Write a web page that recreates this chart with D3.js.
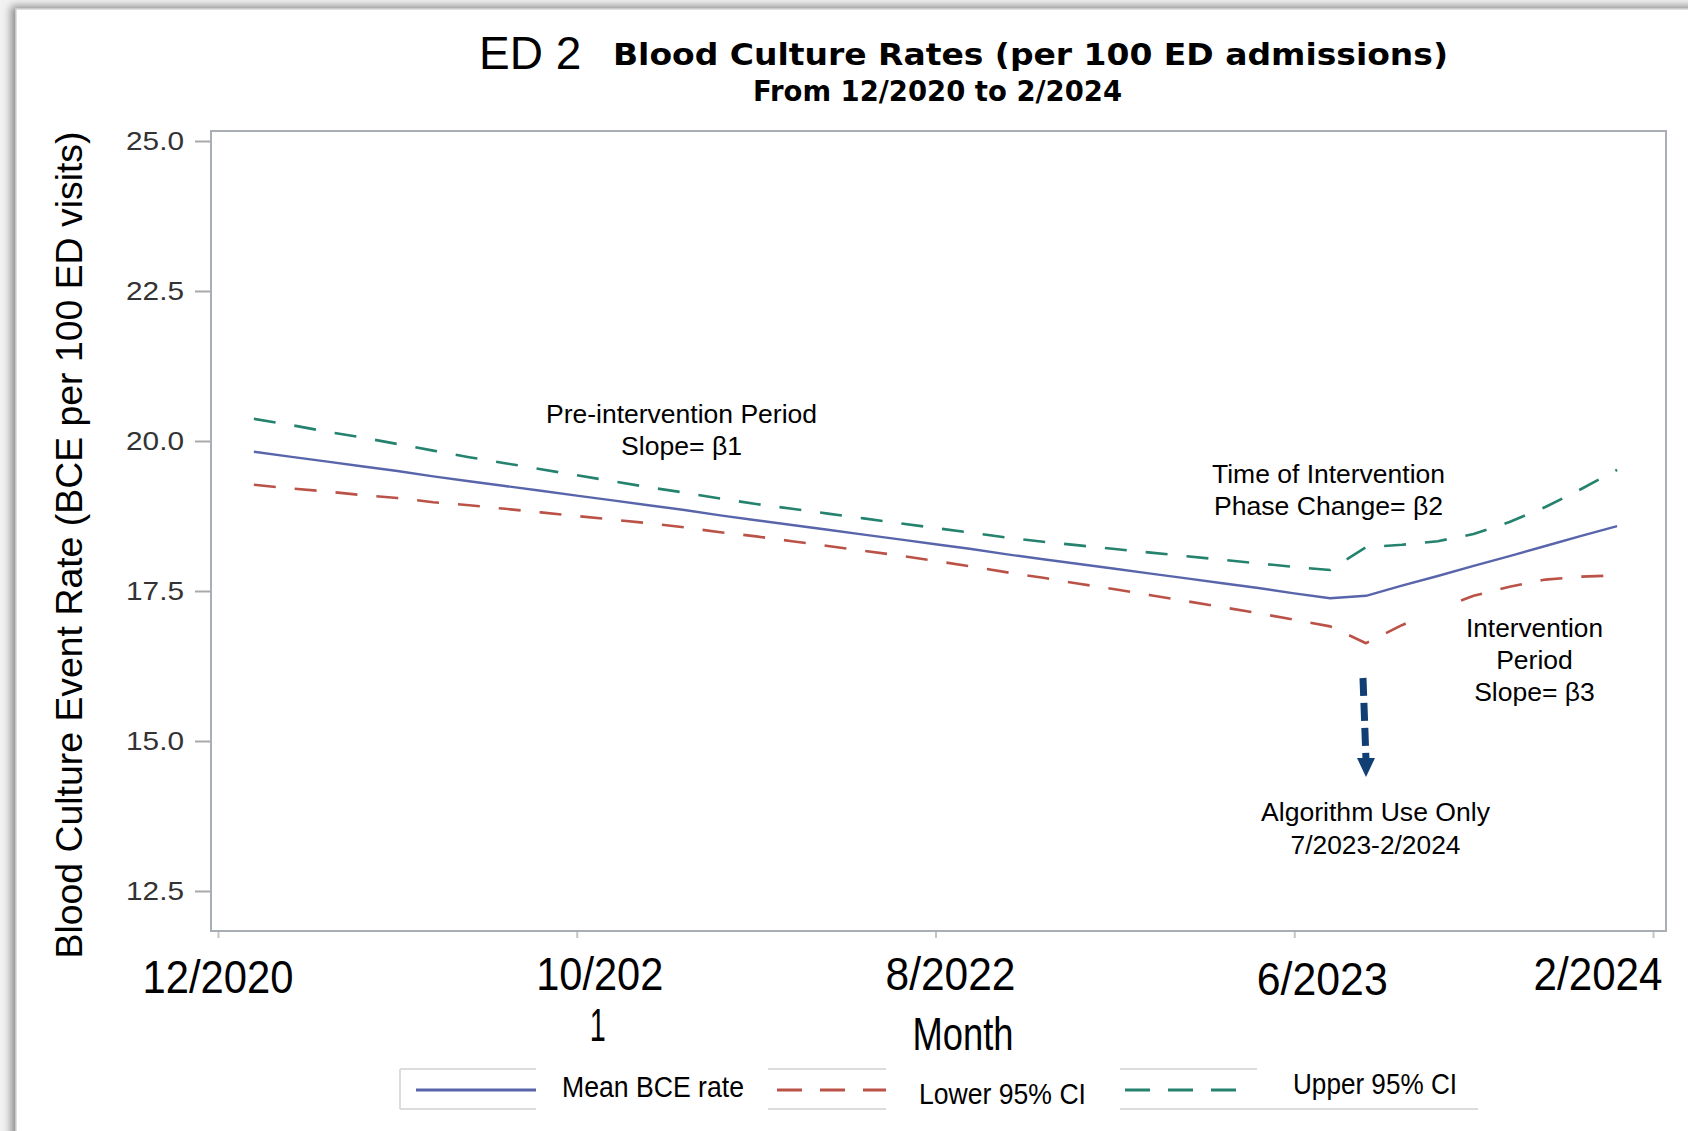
<!DOCTYPE html>
<html>
<head>
<meta charset="utf-8">
<script src="https://cdn.jsdelivr.net/npm/d3@7"></script>
<style>
  html, body { margin: 0; padding: 0; background: #fff; }
  svg { display: block; }
</style>
</head>
<body>
<svg id="chart" width="1688" height="1131"></svg>
<script>
// Study months, 12/2020 through 2/2024 (month number = position + 1)
const months = [
  "12/2020",
  "1/2021","2/2021","3/2021","4/2021","5/2021","6/2021","7/2021","8/2021","9/2021","10/2021","11/2021","12/2021",
  "1/2022","2/2022","3/2022","4/2022","5/2022","6/2022","7/2022","8/2022","9/2022","10/2022","11/2022","12/2022",
  "1/2023","2/2023","3/2023","4/2023","5/2023","6/2023","7/2023","8/2023","9/2023","10/2023","11/2023","12/2023",
  "1/2024","2/2024"
];

// Modelled blood culture event rate per 100 ED visits
const meanRate = [
  19.82, 19.74, 19.66, 19.58, 19.50, 19.41, 19.33, 19.25, 19.17, 19.09,
  19.01, 18.93, 18.85, 18.76, 18.68, 18.60, 18.52, 18.44, 18.36, 18.28,
  18.20, 18.11, 18.03, 17.95, 17.87, 17.79, 17.71, 17.63, 17.55, 17.46,
  17.38, 17.42, 17.59, 17.75, 17.92, 18.08, 18.25, 18.42, 18.58
];
const lower95 = [
  19.27, 19.21, 19.16, 19.10, 19.05, 18.98, 18.93, 18.87, 18.81, 18.75,
  18.69, 18.63, 18.56, 18.48, 18.41, 18.33, 18.25, 18.17, 18.09, 18.00,
  17.91, 17.81, 17.72, 17.62, 17.53, 17.43, 17.33, 17.23, 17.13, 17.02,
  16.91, 16.63, 16.93, 17.20, 17.42, 17.57, 17.69, 17.74, 17.76
];
const upper95 = [
  20.37, 20.27, 20.16, 20.06, 19.95, 19.84, 19.73, 19.63, 19.53, 19.43,
  19.33, 19.23, 19.14, 19.04, 18.95, 18.87, 18.79, 18.71, 18.63, 18.55,
  18.47, 18.39, 18.32, 18.26, 18.20, 18.14, 18.08, 18.02, 17.96, 17.90,
  17.85, 18.23, 18.27, 18.33, 18.45, 18.65, 18.90, 19.20, 19.52
];

const seriesNames = ["Mean BCE rate", "Lower 95% CI", "Upper 95% CI"];
const yTicks = [12.5, 15.0, 17.5, 20.0, 22.5, 25.0];
const xTickMonths = [0, 10, 20, 30, 40];
const xTickLabels = ["12/2020", "10/2021", "8/2022", "6/2023", "2/2024"];
const algorithmStartMonth = 32;   // 7/2023

const W = 1688, H = 1131;
const frame = { left: 211, right: 1666, top: 131, bottom: 931 };
const SANS = "'Liberation Sans', Arial, sans-serif";
const WIDE_BOLD = "'DejaVu Sans', Verdana, sans-serif";

const svg = d3.select("#chart");

// helper: pin a text run to a measured width
function fit(sel, w) {
  sel.attr("textLength", w).attr("lengthAdjust", "spacingAndGlyphs");
  return sel;
}

// ---- page with soft edge shadow on the top/left ----
const defs = svg.append("defs");
defs.append("filter").attr("id", "edgeShadow")
  .attr("x", "-5%").attr("y", "-5%").attr("width", "110%").attr("height", "110%")
  .append("feGaussianBlur").attr("stdDeviation", 4);

svg.append("rect").attr("x", 0).attr("y", 0).attr("width", W).attr("height", H).attr("fill", "#f2f2f2");
svg.append("rect").attr("x", 11).attr("y", 6).attr("width", W + 40).attr("height", H + 40)
  .attr("fill", "#8a8a8a").attr("filter", "url(#edgeShadow)");
svg.append("rect").attr("x", 16).attr("y", 9).attr("width", W).attr("height", H)
  .attr("fill", "#fff").attr("stroke", "#d6d6d6").attr("stroke-width", 1.5);

// ---- scales ----
const x = d3.scaleLinear().domain([0, 40]).range([218, 1653]);
const y = d3.scaleLinear().domain([12.5, 25]).range([891, 141]);

// ---- titles ----
svg.append("text").attr("x", 479).attr("y", 69)
  .attr("font-family", SANS).attr("font-size", 46).attr("fill", "#000")
  .text("ED 2");
fit(svg.append("text").attr("x", 613).attr("y", 65)
  .attr("font-family", WIDE_BOLD).attr("font-weight", "bold").attr("font-size", 30.5).attr("fill", "#000")
  .text("Blood Culture Rates (per 100 ED admissions)"), 835);
fit(svg.append("text").attr("x", 753).attr("y", 101)
  .attr("font-family", WIDE_BOLD).attr("font-weight", "bold").attr("font-size", 28).attr("fill", "#000")
  .text("From 12/2020 to 2/2024"), 369);

// ---- y axis ----
const yAxis = svg.append("g").attr("transform", `translate(${frame.left},0)`)
  .call(d3.axisLeft(y).tickValues(yTicks).tickSize(16).tickPadding(11).tickFormat(d3.format(".1f")));
yAxis.select(".domain").remove();
yAxis.selectAll(".tick line").attr("stroke", "#a9a9a9").attr("stroke-width", 2);
yAxis.selectAll(".tick text")
  .attr("font-family", SANS).attr("font-size", 25).attr("fill", "#333")
  .attr("dy", "0.35em")
  .each(function () { fit(d3.select(this), 58); });

fit(svg.append("text")
  .attr("transform", `translate(82,545) rotate(-90)`)
  .attr("text-anchor", "middle")
  .attr("font-family", SANS).attr("font-size", 37).attr("fill", "#000")
  .text("Blood Culture Event Rate (BCE per 100 ED visits)"), 827);

// ---- x axis ----
const xAxis = svg.append("g").attr("transform", `translate(0,${frame.bottom})`)
  .call(d3.axisBottom(x).tickValues(xTickMonths).tickSize(7).tickFormat(""));
xAxis.select(".domain").remove();
xAxis.selectAll(".tick line").attr("stroke", "#c4c4c4").attr("stroke-width", 2);

// tick labels sit as separate text boxes, nudged from their ticks
const tickLabelNudge = [
  { dx: 0,   base: 993, w: 151 },
  { dx: 23,  base: 990, w: 127 },
  { dx: 15,  base: 990, w: 130 },
  { dx: 28,  base: 995, w: 131 },
  { dx: -55, base: 990, w: 129 }
];
xTickMonths.forEach((m, i) => {
  const n = tickLabelNudge[i];
  const label = xTickLabels[i];
  // "10/2021" wraps its last digit onto a second line
  const firstLine = i === 1 ? label.slice(0, -1) : label;
  fit(svg.append("text")
    .attr("x", x(m) + n.dx).attr("y", n.base).attr("text-anchor", "middle")
    .attr("font-family", SANS).attr("font-size", 47).attr("fill", "#000")
    .text(firstLine), n.w);
  if (i === 1) {
    fit(svg.append("text")
      .attr("x", x(m) + 21).attr("y", 1041).attr("text-anchor", "middle")
      .attr("font-family", SANS).attr("font-size", 47).attr("fill", "#000")
      .text(label.slice(-1)), 16);
  }
});
fit(svg.append("text").attr("x", 963).attr("y", 1050).attr("text-anchor", "middle")
  .attr("font-family", SANS).attr("font-size", 46).attr("fill", "#000")
  .text("Month"), 101);

// ---- plot frame ----
svg.append("rect")
  .attr("x", frame.left).attr("y", frame.top)
  .attr("width", frame.right - frame.left).attr("height", frame.bottom - frame.top)
  .attr("fill", "none").attr("stroke", "#a8aeb4").attr("stroke-width", 2);

// ---- series ----
const styles = [
  { values: meanRate, color: "#5865ab", width: 2.4, dash: null },
  { values: lower95,  color: "#bb5247", width: 2.6, dash: "22,19" },
  { values: upper95,  color: "#24826f", width: 2.6, dash: "22,19" }
];
const line = d3.line().x((d, i) => x(i + 1)).y(d => y(d));
const plot = svg.append("g");
styles.forEach(s => {
  plot.append("path").datum(s.values)
    .attr("d", line)
    .attr("fill", "none")
    .attr("stroke", s.color)
    .attr("stroke-width", s.width)
    .attr("stroke-dasharray", s.dash)
    .attr("stroke-linejoin", "round");
});

// ---- annotations ----
function note(lines, cx, firstBase, step, widths, g) {
  lines.forEach((t, i) => {
    const el = (g || svg).append("text")
      .attr("x", cx).attr("y", firstBase + i * step).attr("text-anchor", "middle")
      .attr("font-family", SANS).attr("font-size", 26.5).attr("fill", "#000")
      .text(t);
    if (widths && widths[i]) fit(el, widths[i]);
  });
}
note(["Pre-intervention Period", "Slope= \u03b21"], 681.5, 423, 32, [271, 121]);
note(["Time of Intervention", "Phase Change= \u03b22"], 1328.5, 483, 32, [233, 229]);

// text box for the intervention period label (opaque, sits over the band)
svg.append("rect").attr("x", 1422).attr("y", 603).attr("width", 230).attr("height", 108).attr("fill", "#fff");
note(["Intervention", "Period", "Slope= \u03b23"], 1534.5, 637, 32, [137, 0, 0]);

note(["Algorithm Use Only", "7/2023-2/2024"], 1375.5, 821, 33, [229, 170]);

// dashed arrow pointing from the phase change down to the algorithm note
const ax = x(algorithmStartMonth);
svg.append("line")
  .attr("x1", ax - 3).attr("y1", 678).attr("x2", ax).attr("y2", 760)
  .attr("stroke", "#123f73").attr("stroke-width", 7).attr("stroke-dasharray", "18,7");
svg.append("path")
  .attr("d", `M${ax - 9},758 L${ax + 9},758 L${ax},777 Z`)
  .attr("fill", "#123f73");

// ---- legend ----
const legendItems = [
  { box: [400, 536], sample: [416, 536], textX: 562, textW: 182, base: 1097, leftEdge: true, bottomTo: 536 },
  { box: [768, 886], sample: [777, 886], textX: 919, textW: 167, base: 1104, leftEdge: false, bottomTo: 886 },
  { box: [1120, 1257], sample: [1125, 1238], textX: 1293, textW: 164, base: 1094, leftEdge: false, bottomTo: 1478 }
];
const legend = svg.append("g");
legendItems.forEach((it, i) => {
  const s = styles[i];
  legend.append("line").attr("x1", it.box[0]).attr("x2", it.box[1]).attr("y1", 1069).attr("y2", 1069)
    .attr("stroke", "#dcdcdc").attr("stroke-width", 2);
  legend.append("line").attr("x1", it.box[0]).attr("x2", it.bottomTo).attr("y1", 1109).attr("y2", 1109)
    .attr("stroke", "#dcdcdc").attr("stroke-width", 2);
  if (it.leftEdge) {
    legend.append("line").attr("x1", it.box[0]).attr("x2", it.box[0]).attr("y1", 1069).attr("y2", 1109)
      .attr("stroke", "#dcdcdc").attr("stroke-width", 2);
  }
  legend.append("line").attr("x1", it.sample[0]).attr("x2", it.sample[1]).attr("y1", 1090).attr("y2", 1090)
    .attr("stroke", s.color).attr("stroke-width", 3)
    .attr("stroke-dasharray", s.dash ? "25,18" : null);
  fit(legend.append("text").attr("x", it.textX).attr("y", it.base)
    .attr("font-family", SANS).attr("font-size", 29).attr("fill", "#000")
    .text(seriesNames[i]), it.textW);
});
</script>
</body>
</html>
